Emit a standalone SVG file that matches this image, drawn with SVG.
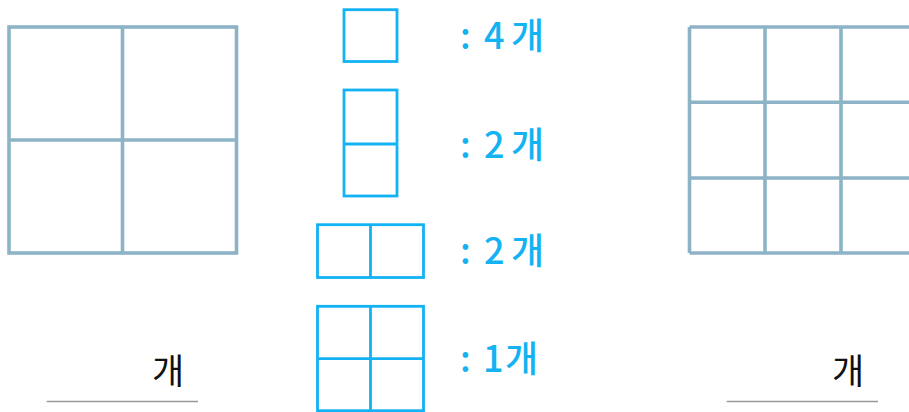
<svg xmlns="http://www.w3.org/2000/svg" width="909" height="412" viewBox="0 0 909 412">
<style>
.grid{fill:none;stroke:#8DB3C7;stroke-width:3.6}
.blue{fill:none;stroke:#12B2F3;stroke-width:2.8}
.bt{font-family:"Noto Sans CJK KR","Noto Sans",sans-serif;font-size:36px;font-weight:500;fill:#12B2F3}
.kt{font-family:"Noto Sans CJK KR","Noto Sans",sans-serif;font-size:35px;fill:#111}
.ul{stroke:#9A9A9A;stroke-width:1.5}
</style>
<rect width="909" height="412" fill="#fff"/>
<g id="left-grid">
<rect class="grid" x="9" y="27" width="227.5" height="226"/>
<line class="grid" x1="122.5" y1="27" x2="122.5" y2="253"/>
<line class="grid" x1="9" y1="140" x2="236.5" y2="140"/>
</g>
<g id="right-grid">
<path class="grid" d="M689.5 27H920M689.5 102.3H920M689.5 178H920M689.5 253H920M689.5 27V253M765 27V253M841 27V253"/>
</g>
<g id="shape-1x1">
<rect class="blue" x="344" y="9.7" width="53" height="51.8"/>
<text class="bt" x="460 484 511" y="48.5">:4개</text>
</g>
<g id="shape-1x2">
<rect class="blue" x="344" y="90" width="53" height="106"/>
<line class="blue" x1="344" y1="144" x2="397" y2="144"/>
<text class="bt" x="460 484 511" y="157.5">:2개</text>
</g>
<g id="shape-2x1">
<rect class="blue" x="317.5" y="224.7" width="106" height="52.8"/>
<line class="blue" x1="370.5" y1="224.7" x2="370.5" y2="277.5"/>
<text class="bt" x="460 484 511" y="263.5">:2개</text>
</g>
<g id="shape-2x2">
<rect class="blue" x="317.5" y="306.3" width="106" height="104.4"/>
<line class="blue" x1="370.5" y1="306.3" x2="370.5" y2="410.7"/>
<line class="blue" x1="317.5" y1="358.7" x2="423.5" y2="358.7"/>
<text class="bt" x="460 483 505" y="371.5">:1개</text>
</g>
<g id="answer-left">
<line class="ul" x1="46.7" y1="401.5" x2="198" y2="401.5"/>
<text class="kt" x="152" y="384">개</text>
</g>
<g id="answer-right">
<line class="ul" x1="726.7" y1="401.5" x2="878" y2="401.5"/>
<text class="kt" x="832" y="384">개</text>
</g>
</svg>
